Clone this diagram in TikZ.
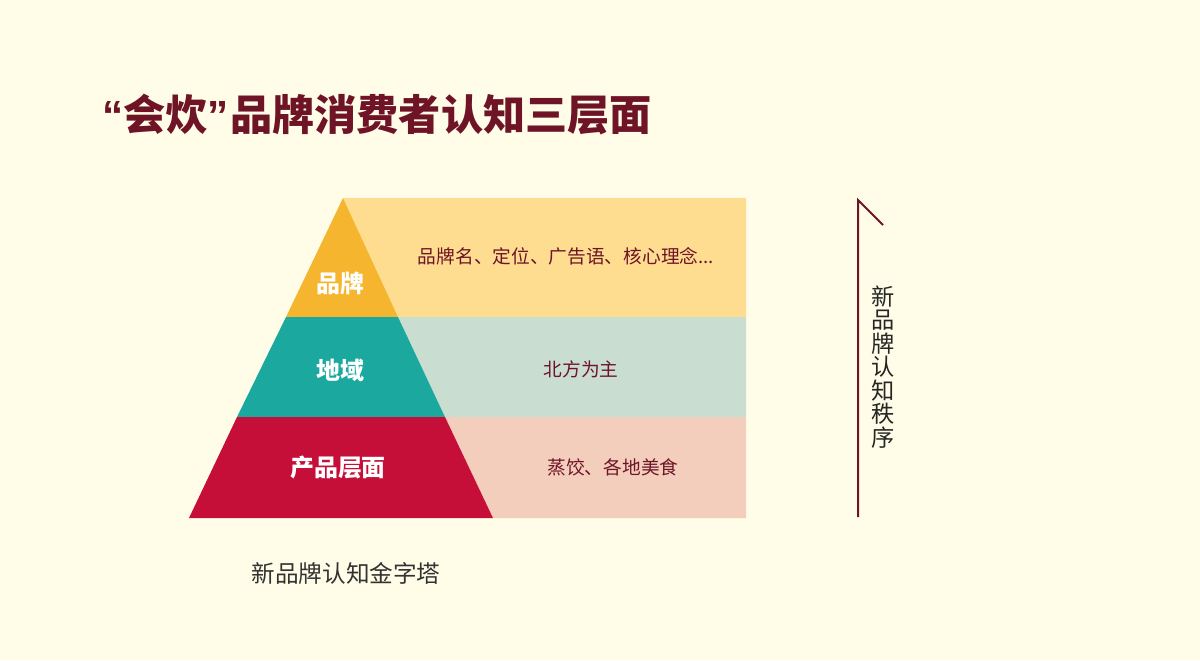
\documentclass[tikz,border=0pt]{standalone}
\usepackage{fontspec}
\usepackage{tikz}
\setmainfont{Noto Sans CJK SC}
\newfontfamily\quotefont{Liberation Sans}
\definecolor{paper}{HTML}{FFFDE7}
\definecolor{wine}{HTML}{6E1426}
\definecolor{topband}{HTML}{F5B52E}
\definecolor{midband}{HTML}{1BA89F}
\definecolor{lowband}{HTML}{C50F39}
\definecolor{toprow}{HTML}{FEDD90}
\definecolor{midrow}{HTML}{C9DDD0}
\definecolor{lowrow}{HTML}{F3CEBC}
\tikzset{x=0.025cm, y=-0.025cm,
 layer/.style={white, font=\fontsize{17}{20}\selectfont\bfseries},
 rowtext/.style={wine, font=\fontsize{13.3}{16}\selectfont},
 order/.style={draw=wine, line width=1.4pt},
 }

\begin{document}
\begin{tikzpicture}
        \fill[paper] (0, 0) rectangle (1200, 660);
        \useasboundingbox (0, 0) rectangle (1200, 660);
        \node[wine, anchor=west, inner sep=0pt, font=\fontsize{30}{34}\selectfont\bfseries] (title) at (102, 115) {{\quotefont“}会炊{\quotefont”}\kern1pt 品牌消费者认知三层面};
        % rows
        \fill[toprow] (343, 198) -- (746, 198) -- (746, 317) -- (398, 317) -- cycle;
        \fill[midrow] (398, 317) -- (746, 317) -- (746, 417) -- (445, 417) -- cycle;
        \fill[lowrow] (445, 417) -- (746, 417) -- (746, 518) -- (493, 518) -- cycle;
        % pyramid
        \fill[topband] (343, 198) -- (398, 317) -- (286, 317) -- cycle;
        \fill[midband] (286, 317) -- (398, 317) -- (445, 417) -- (237, 417) -- cycle;
        \fill[lowband] (237, 417) -- (445, 417) -- (493, 518) -- (189, 518) -- cycle;
        \node[layer] (brand) at (340, 283) {品牌};
        \node[layer] (region) at (340, 370) {地域};
        \node[layer] (product) at (338, 468) {产品层面};
        \node[rowtext] (brandtext) at (566, 256) {品牌名、定位、广告语、核心理念...};
        \node[rowtext] (regiontext) at (581, 369) {北方为主};
        \node[rowtext] (producttext) at (613, 467) {蒸饺、各地美食};
        \node[black!80, font=\fontsize{16.8}{19}\selectfont] (caption) at (346, 573) {新品牌认知金字塔};
        % order line
        \coordinate (low) at (858, 517);
        \coordinate (high) at (858, 200);
        \coordinate (tick) at (883, 225);
        \draw[order] (low) -- (high) -- (tick);
        \foreach \ch [count=\i] in {新,品,牌,认,知,秩,序}
            \node[black!85, font=\fontsize{16.5}{18}\selectfont] (ord\i) at (883, 273 + 23.5*\i) {\ch};
    \end{tikzpicture}
\end{document}
